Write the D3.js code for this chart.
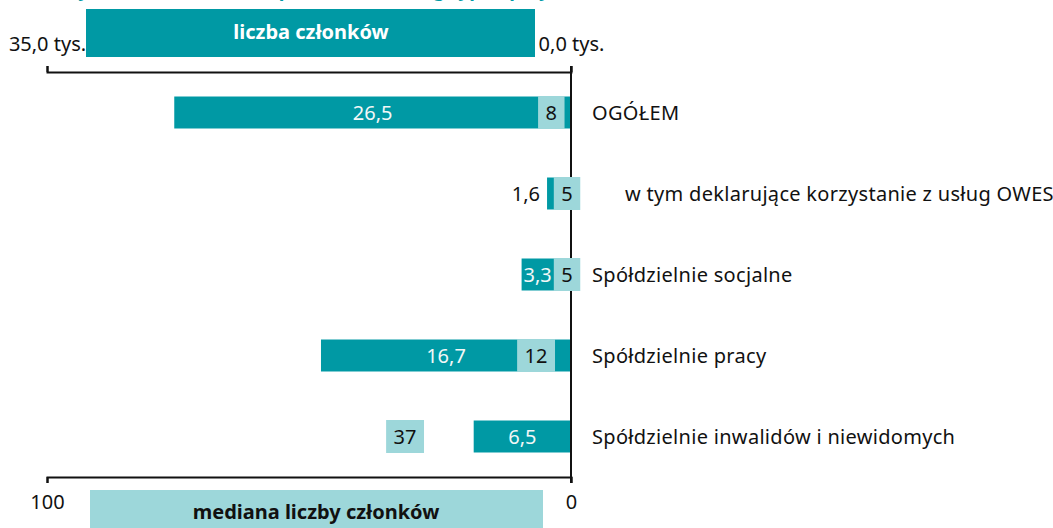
<!DOCTYPE html>
<html>
<head>
<meta charset="utf-8">
<script src="https://cdnjs.cloudflare.com/ajax/libs/d3/7.8.5/d3.min.js"></script>
<style>
body{margin:0;background:#fff;}
svg text{font-family:"Noto Sans",sans-serif;}
</style>
</head>
<body>
<svg id="chart" width="1053" height="528"></svg>
<script>
// ---------------------------------------------- DATA ---------------------------------------------------
var categories = ["OGÓŁEM","      w tym deklarujące korzystanie z usług OWES","Spółdzielnie socjalne","Spółdzielnie pracy","Spółdzielnie inwalidów i niewidomych"];
// liczba członków w tys.
var membersThousands = [26.5,1.6,3.3,16.7,6.5];
// mediana liczby członków
var medianMembers = [8,5,5,12,37];
var topTickValues = [35,0];
var topTickLabels = ["35,0 tys.","0,0 tys."];
var bottomTickValues = [100,0];
var bottomTickLabels = ["100","0"];
var seriesNames = ["liczba członków","mediana liczby członków"];
var chartTitle = "Wykres 4. Członkowie spółdzielni według typu i przynależności";

var COLOR_TEAL = "#0099a4";
var COLOR_LIGHT = "#9dd7da";
var FONT_SIZE = "20px";

var svg = d3.select("#chart");

var xTop = d3.scaleLinear().domain([35,0]).range([47,571]);
var xBottom = d3.scaleLinear().domain([100,0]).range([47,571]);
var y = d3.scaleBand().domain(categories).range([72,477]).paddingInner(0.605).paddingOuter(0.3025);

// ----------------------------------------------------------------------------------------------------------------
// ---------------------------------------------- AXES ------------------------------------------------------------
// ----------------------------------------------------------------------------------------------------------------
function drawAxes(){
	var _top = svg.append("g")
		.attr("id","axisTop")
		.attr("transform","translate(0,72)")
		.call(d3.axisTop(xTop)
			.tickValues(topTickValues)
			.tickFormat(function(d,i){return topTickLabels[i];})
			.tickSize(6)
			.tickPadding(15));

	var _bottom = svg.append("g")
		.attr("id","axisBottom")
		.attr("transform","translate(0,477)")
		.call(d3.axisBottom(xBottom)
			.tickValues(bottomTickValues)
			.tickFormat(function(d,i){return bottomTickLabels[i];})
			.tickSize(6)
			.tickPadding(12));

	[_top,_bottom].forEach(function(a){
		a.select(".domain").style("stroke","#111").style("stroke-width",2);
		a.selectAll(".tick line").style("stroke","#111").style("stroke-width",2);
		a.selectAll(".tick text")
			.style("font-size",FONT_SIZE)
			.style("font-family","'Noto Sans',sans-serif")
			.style("fill","#111");
	});
}

// legend boxes sit on top of the axis labels
function drawLegend(){
	svg.append("rect")
		.attr("x",86).attr("y",9)
		.attr("width",449).attr("height",48)
		.style("fill",COLOR_TEAL);
	svg.append("text")
		.text(seriesNames[0])
		.attr("x",311).attr("y",39)
		.style("fill","#fff")
		.style("font-weight","bold")
		.style("text-anchor","middle")
		.style("font-size",FONT_SIZE);

	svg.append("rect")
		.attr("x",90).attr("y",490)
		.attr("width",453).attr("height",45)
		.style("fill",COLOR_LIGHT);
	svg.append("text")
		.text(seriesNames[1])
		.attr("x",316).attr("y",519)
		.style("fill","#111")
		.style("font-weight","bold")
		.style("text-anchor","middle")
		.style("font-size",FONT_SIZE);
}

function drawTitle(){
	// title is cut off at the top edge, only descenders show
	svg.append("text")
		.text(chartTitle)
		.attr("x",60).attr("y",-4)
		.style("fill",COLOR_TEAL)
		.style("font-weight","bold")
		.style("font-size","19px");
}

// ----------------------------------------------------------------------------------------------------------------
// ---------------------------------------------- BARS ------------------------------------------------------------
// ----------------------------------------------------------------------------------------------------------------
function drawBars(){
	var _rows = categories.map(function(c,i){
		return {cat:c, members:membersThousands[i], median:medianMembers[i]};
	});
	var _h = y.bandwidth();
	var _x0 = xTop(0);

	var gBars = svg.append("g").attr("id","bars");
	gBars.selectAll("rect")
		.data(_rows)
		.enter()
		.append("rect")
		.attr("x",function(d){return xTop(d.members);})
		.attr("y",function(d){return y(d.cat);})
		.attr("width",function(d){return _x0-xTop(d.members);})
		.attr("height",_h)
		.style("fill",COLOR_TEAL);

	// zero line, between the two axes
	svg.append("line")
		.attr("x1",_x0).attr("x2",_x0)
		.attr("y1",66).attr("y2",483)
		.style("stroke","#111")
		.style("stroke-width",2);

	// median label boxes ("inside end" of an invisible bar on the bottom scale)
	var gMed = svg.append("g").attr("id","median");
	var _boxLeft = [];
	_rows.forEach(function(d,i){
		var _t = gMed.append("text")
			.text(d3.format("d")(d.median))
			.attr("y",y(d.cat)+_h/2)
			.attr("dy","0.35em")
			.style("fill","#111")
			.style("text-anchor","middle")
			.style("font-size",FONT_SIZE);
		var _tw = _t.node().getComputedTextLength();
		var _bx = xBottom(d.median)+9;
		var _bw = _tw+15;
		_boxLeft[i] = _bx;
		gMed.insert("rect","text")
			.attr("x",_bx)
			.attr("y",y(d.cat)-0.5)
			.attr("width",_bw)
			.attr("height",_h+1)
			.style("fill",COLOR_LIGHT);
		_t.attr("x",_bx+_bw/2);
	});

	// member value labels
	var gLab = svg.append("g").attr("id","memberLabels");
	_rows.forEach(function(d,i){
		var _xs = xTop(d.members);
		var _t = gLab.append("text")
			.text(d3.format(".1f")(d.members).replace(".",","))
			.attr("y",y(d.cat)+_h/2)
			.attr("dy","0.35em")
			.style("font-size",FONT_SIZE);
		var _tw = _t.node().getComputedTextLength();
		if (_tw+6 < _x0-_xs){
			var _cx = (_xs+_x0)/2;
			// keep clear of the median box when it lies on the bar
			if (_boxLeft[i] > _xs && _cx+_tw/2 > _boxLeft[i]-2) _cx = (_xs+_boxLeft[i])/2;
			_t.attr("x",_cx)
				.style("text-anchor","middle")
				.style("fill","#f2f7f7");
		} else {
			_t.attr("x",_xs-7)
				.style("text-anchor","end")
				.style("fill","#111");
		}
	});

	// category labels
	svg.append("g").attr("id","categories")
		.selectAll("text")
		.data(categories)
		.enter()
		.append("text")
		.text(function(d){return d;})
		.attr("x",_x0+21)
		.attr("y",function(d){return y(d)+_h/2;})
		.attr("dy","0.35em")
		.style("white-space","pre")
		.style("letter-spacing","0.3px")
		.style("fill","#111")
		.style("font-size",FONT_SIZE);
}

drawTitle();
drawAxes();
drawLegend();
drawBars();
</script>
</body>
</html>
